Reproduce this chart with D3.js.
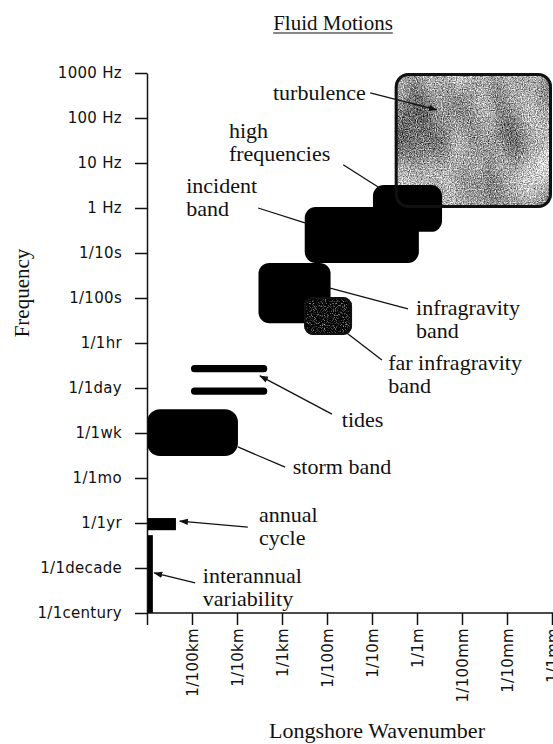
<!DOCTYPE html>
<html>
<head>
<meta charset="utf-8">
<script src="https://cdn.jsdelivr.net/npm/d3@7"></script>
<style>
  html, body { margin: 0; padding: 0; background: #fff; }
  svg { display: block; }
  .tick text { font-family: "DejaVu Sans", sans-serif; font-size: 15px; letter-spacing: 0.3px; fill: #111; }
  .serif { font-family: "Liberation Serif", "Times New Roman", serif; fill: #111; }
</style>
</head>
<body>
<svg id="chart" width="553" height="744"></svg>
<script>
// iffy wrapper
(function() {

// frequency axis: evenly spaced ranks, top to bottom
const freqLabels = ['1000 Hz', '100 Hz', '10 Hz', '1 Hz', '1/10s', '1/100s', '1/1hr',
                    '1/1day', '1/1wk', '1/1mo', '1/1yr', '1/1decade', '1/1century'];

// wavenumber axis (cycles per metre)
const waveTicks = [1e-5, 1e-4, 1e-3, 1e-2, 1e-1, 1, 10, 100, 1000];
const waveLabels = ['1/100km', '1/10km', '1/1km', '1/100m', '1/10m', '1/1m', '1/100mm', '1/10mm', '1/1mm'];

// bands: wavenumber range (k0..k1) and frequency rank range (f0 top .. f1 bottom)
const bandNames = ['turbulence', 'high frequencies', 'incident band', 'infragravity band',
                   'far infragravity band', 'semidiurnal tide', 'diurnal tide', 'storm band',
                   'annual cycle', 'interannual variability'];
const bandK0 = [0.32, 0.105, 3.2e-3, 3e-4, 3.1e-3, 9.5e-6, 9.5e-6, 1e-6, 1e-6, 1e-6];
const bandK1 = [1e3, 3.6, 1.1, 0.012, 0.036, 4.7e-4, 4.7e-4, 1.05e-4, 4.4e-6, 1.35e-6];
const bandF0 = [0, 2.49, 2.98, 4.22, 4.98, 6.49, 6.99, 7.47, 9.89, 10.27];
const bandF1 = [3.0, 3.53, 4.22, 5.56, 5.82, 6.65, 7.15, 8.51, 10.16, 12];

// annotations: text lines, text anchor (log10 k, rank), leader from -> to
const noteLines = [['turbulence'], ['high', 'frequencies'], ['incident', 'band'],
                   ['infragravity', 'band'], ['far infragravity', 'band'], ['tides'],
                   ['storm band'], ['annual', 'cycle'], ['interannual', 'variability']];
const noteLogK = [-3.2, -4.18, -5.13, -0.02, -0.64, -1.67, -2.76, -3.51, -4.76];
const noteRank = [0.6, 1.44, 2.67, 5.38, 6.6, 7.87, 8.91, 9.98, 11.33];
const leaderFrom = [[-1.04, 0.44], [-1.64, 2.04], [-3.53, 3.0], [-0.2, 5.24], [-0.78, 6.38],
                    [-1.89, 7.58], [-2.93, 8.76], [-3.76, 10.09], [-4.93, 11.33]];
const leaderTo = [[0.44, 0.82], [-0.82, 2.56], [-2.49, 3.33], [-1.93, 4.78], [-1.56, 5.78],
                  [-3.49, 6.73], [-3.98, 8.31], [-5.27, 9.96], [-5.84, 11.11]];
const leaderArrow = [true, false, false, false, false, true, false, true, true];

var svg = d3.select('#chart');

var x = d3.scaleLog().domain([1e-6, 1e3]).range([147, 552]);
var y = d3.scaleLinear().domain([0, 12]).range([73, 613]);

var defs = svg.append('defs');

// mottled grey texture for turbulence
var grain = defs.append('filter').attr('id', 'grain')
    .attr('color-interpolation-filters', 'sRGB');
grain.append('feTurbulence').attr('type', 'fractalNoise').attr('baseFrequency', 0.85)
    .attr('numOctaves', 2).attr('seed', 4).attr('result', 'n1');
grain.append('feColorMatrix').attr('in', 'n1').attr('type', 'matrix')
    .attr('values', '1 0 0 0 0  1 0 0 0 0  1 0 0 0 0  0 0 0 0 1').attr('result', 'g1');
grain.append('feTurbulence').attr('type', 'fractalNoise').attr('baseFrequency', '0.025 0.012')
    .attr('numOctaves', 2).attr('seed', 11).attr('result', 'n2');
grain.append('feColorMatrix').attr('in', 'n2').attr('type', 'matrix')
    .attr('values', '1 0 0 0 0  1 0 0 0 0  1 0 0 0 0  0 0 0 0 1').attr('result', 'g2');
grain.append('feComposite').attr('in', 'g1').attr('in2', 'g2').attr('operator', 'arithmetic')
    .attr('k1', 0).attr('k2', 1.3).attr('k3', 0.9).attr('k4', -0.45).attr('result', 'mix');
grain.append('feComposite').attr('in', 'mix').attr('in2', 'SourceGraphic').attr('operator', 'in');

// dark speckle for far infragravity
var speck = defs.append('filter').attr('id', 'speck')
    .attr('color-interpolation-filters', 'sRGB');
speck.append('feTurbulence').attr('type', 'fractalNoise').attr('baseFrequency', 1.1)
    .attr('numOctaves', 1).attr('seed', 2).attr('result', 'n1');
speck.append('feColorMatrix').attr('in', 'n1').attr('type', 'matrix')
    .attr('values', '1 0 0 0 0  1 0 0 0 0  1 0 0 0 0  0 0 0 0 1').attr('result', 'g1');
var ct = speck.append('feComponentTransfer').attr('in', 'g1').attr('result', 'dk');
['feFuncR', 'feFuncG', 'feFuncB'].forEach(function(f) {
    ct.append(f).attr('type', 'linear').attr('slope', 2.4).attr('intercept', -1.2);
});
speck.append('feComposite').attr('in', 'dk').attr('in2', 'SourceGraphic').attr('operator', 'in');

defs.append('marker').attr('id', 'arrow')
    .attr('viewBox', '0 0 10 10').attr('refX', 9).attr('refY', 5)
    .attr('markerWidth', 9).attr('markerHeight', 9).attr('markerUnits', 'userSpaceOnUse')
    .attr('orient', 'auto')
  .append('path').attr('d', 'M0,1.5 L10,5 L0,8.5 Z').attr('fill', '#111');

// per band look
var bandStyle = {
    'turbulence':              { r: 14, fill: '#999', filter: 'url(#grain)', stroke: 3 },
    'high frequencies':        { r: 11, fill: '#000' },
    'incident band':           { r: 11, fill: '#000' },
    'infragravity band':       { r: 11, fill: '#000' },
    'far infragravity band':   { r: 9, fill: '#333', filter: 'url(#speck)', stroke: 2 },
    'semidiurnal tide':        { r: 3.5, fill: '#000' },
    'diurnal tide':            { r: 3.5, fill: '#000' },
    'storm band':              { r: 13, fill: '#000' },
    'annual cycle':            { r: 0, fill: '#000' },
    'interannual variability': { r: 0, fill: '#000' }
};

var bands = bandNames.map(function(n, i) {
    return { name: n, k0: bandK0[i], k1: bandK1[i], f0: bandF0[i], f1: bandF1[i], s: bandStyle[n] };
});

var bandG = svg.append('g').attr('class', 'bands');

bandG.selectAll('.band')
    .data(bands)
  .enter().append('rect')
    .attr('class', 'band')
    .attr('x', function(d) { return x(d.k0); })
    .attr('y', function(d) { return y(d.f0); })
    .attr('width', function(d) { return x(d.k1) - x(d.k0); })
    .attr('height', function(d) { return y(d.f1) - y(d.f0); })
    .attr('rx', function(d) { return d.s.r; })
    .attr('fill', function(d) { return d.s.fill; })
    .attr('filter', function(d) { return d.s.filter || null; })
    .each(function(d) {
        if (!d.s.stroke) return;
        var h = d.s.stroke / 2;
        bandG.append('rect')
            .attr('x', x(d.k0) + h)
            .attr('y', y(d.f0) + h)
            .attr('width', x(d.k1) - x(d.k0) - 2 * h)
            .attr('height', y(d.f1) - y(d.f0) - 2 * h)
            .attr('rx', d.s.r - h)
            .attr('fill', 'none')
            .attr('stroke', '#111')
            .attr('stroke-width', d.s.stroke);
    });

// axes
var yAxis = svg.append('g')
    .attr('transform', 'translate(' + x(1e-6) + ',0)')
    .call(d3.axisLeft(y)
        .tickValues(d3.range(freqLabels.length))
        .tickFormat(function(i) { return freqLabels[i]; })
        .tickSize(12).tickSizeOuter(0).tickPadding(13));

var xAxis = svg.append('g')
    .attr('transform', 'translate(0,' + y(12) + ')')
    .call(d3.axisBottom(x)
        .tickValues([1e-6].concat(waveTicks))
        .tickFormat(function(t) {
            var i = waveTicks.indexOf(t);
            return i < 0 ? '' : waveLabels[i];
        })
        .tickSize(12).tickSizeOuter(0));

xAxis.selectAll('.tick text')
    .attr('transform', 'rotate(-90)')
    .attr('x', -15).attr('y', 0).attr('dy', '0.36em')
    .style('text-anchor', 'end');

[yAxis, xAxis].forEach(function(a) {
    a.selectAll('path, line').attr('stroke', '#111').attr('stroke-width', 1.5);
});
xAxis.select('.domain').attr('d', 'M' + x(1e-6) + ',0H553');

// annotations
var notes = svg.append('g').attr('class', 'notes');

noteLines.forEach(function(lines, i) {
    var t = notes.append('text')
        .attr('class', 'serif')
        .attr('x', x(Math.pow(10, noteLogK[i])))
        .attr('y', y(noteRank[i]))
        .style('font-size', '22px');
    lines.forEach(function(l, j) {
        t.append('tspan')
            .attr('x', x(Math.pow(10, noteLogK[i])))
            .attr('dy', j === 0 ? 0 : 23)
            .text(l);
    });

    notes.append('line')
        .attr('x1', x(Math.pow(10, leaderFrom[i][0])))
        .attr('y1', y(leaderFrom[i][1]))
        .attr('x2', x(Math.pow(10, leaderTo[i][0])))
        .attr('y2', y(leaderTo[i][1]))
        .attr('stroke', '#111')
        .attr('stroke-width', 1.3)
        .attr('marker-end', leaderArrow[i] ? 'url(#arrow)' : null);
});

// titles
var title = svg.append('text')
    .attr('class', 'serif')
    .attr('x', 333).attr('y', 30)
    .style('font-size', '21px')
    .style('text-anchor', 'middle')
    .text('Fluid Motions');
var tw = title.node().getComputedTextLength();
svg.append('line')
    .attr('x1', 333 - tw / 2).attr('x2', 333 + tw / 2)
    .attr('y1', 33).attr('y2', 33)
    .attr('stroke', '#111').attr('stroke-width', 1.2);

svg.append('text')
    .attr('class', 'serif')
    .attr('transform', 'translate(29,293) rotate(-90)')
    .style('font-size', '21px')
    .style('text-anchor', 'middle')
    .text('Frequency');

svg.append('text')
    .attr('class', 'serif')
    .attr('x', 377).attr('y', 738)
    .style('font-size', '22px')
    .style('text-anchor', 'middle')
    .text('Longshore Wavenumber');

})(); // end iffy
</script>
</body>
</html>
